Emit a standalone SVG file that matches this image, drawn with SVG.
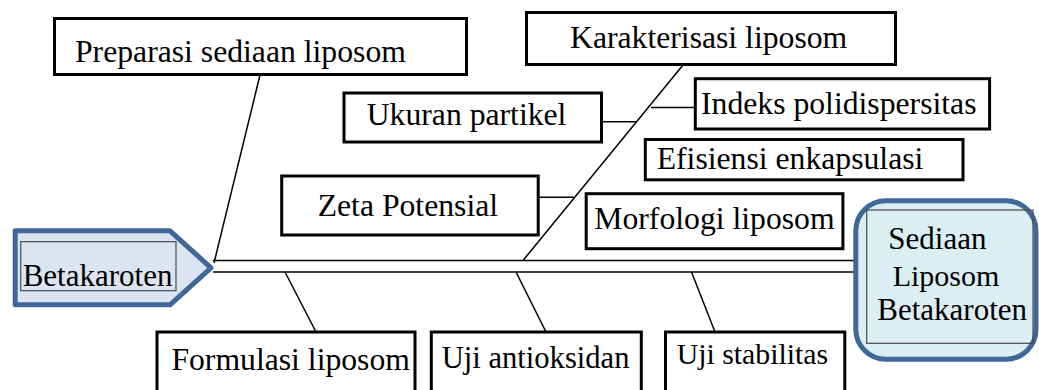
<svg xmlns="http://www.w3.org/2000/svg" width="1039" height="390" viewBox="0 0 1039 390">
<style>
.box{fill:#fff;stroke:#000;stroke-width:3}
.t{font-family:"Liberation Serif","Times New Roman",serif;font-size:31.7px;fill:#000}
.ln{stroke:#000;stroke-width:1.5;fill:none}
.inner{fill:none;stroke:#4a4a4a;stroke-width:1.2}
</style>
<rect width="1039" height="390" fill="#fff"/>
<g id="connectors">
<line class="ln" x1="213" y1="260.5" x2="858" y2="260.5"/>
<line class="ln" x1="213" y1="272" x2="858" y2="272"/>
<line class="ln" x1="260" y1="75" x2="214" y2="263"/>
<line class="ln" x1="683" y1="65" x2="523" y2="260.5"/>
<line class="ln" x1="601" y1="121.7" x2="637" y2="121.7"/>
<line class="ln" x1="538" y1="197.3" x2="574" y2="197.3"/>
<line class="ln" x1="651" y1="107.5" x2="695" y2="107.5"/>
<line class="ln" x1="285" y1="272" x2="316" y2="332"/>
<line class="ln" x1="516" y1="272" x2="546" y2="332"/>
<line class="ln" x1="691.5" y1="272" x2="715" y2="332"/>
</g>
<g id="preparasi">
<rect class="box" x="54.5" y="18.5" width="412" height="56"/>
<text class="t" x="75" y="62">Preparasi sediaan liposom</text>
</g>
<g id="karakterisasi">
<rect class="box" x="526.5" y="12.5" width="369" height="52"/>
<text class="t" x="570" y="48">Karakterisasi liposom</text>
</g>
<g id="ukuran">
<rect class="box" x="344" y="93" width="257.5" height="49"/>
<text class="t" x="366.7" y="125">Ukuran partikel</text>
</g>
<g id="indeks">
<rect class="box" x="695.3" y="78.7" width="294.3" height="50.3"/>
<text class="t" x="701" y="114">Indeks polidispersitas</text>
</g>
<g id="efisiensi">
<rect class="box" x="645.3" y="139.5" width="317.7" height="40.3"/>
<text class="t" x="656.7" y="169">Efisiensi enkapsulasi</text>
</g>
<g id="zeta">
<rect class="box" x="281.7" y="176" width="256.5" height="59"/>
<text class="t" x="317.7" y="216">Zeta Potensial</text>
</g>
<g id="morfologi">
<rect class="box" x="586.2" y="193.7" width="256.7" height="55"/>
<text class="t" x="594.3" y="229.3">Morfologi liposom</text>
</g>
<g id="formulasi">
<rect class="box" x="157" y="332" width="258" height="70"/>
<text class="t" x="171.4" y="369.5">Formulasi liposom</text>
</g>
<g id="antioksidan">
<rect class="box" x="431.3" y="332" width="210" height="70"/>
<text class="t" x="441.7" y="368.3" style="font-size:30.6px">Uji antioksidan</text>
</g>
<g id="stabilitas">
<rect class="box" x="665.5" y="332" width="179.3" height="70"/>
<text class="t" x="676.7" y="364.3" style="font-size:29.8px">Uji stabilitas</text>
</g>
<g id="betakaroten">
<path d="M15.2,230.8 L170,230.8 L211,267.8 L170,304.8 L15.2,304.8 Z" fill="#dbe5f1" stroke="#3f6797" stroke-width="5" stroke-linejoin="round"/>
<rect class="inner" x="20.7" y="241.7" width="155.3" height="49"/>
<text class="t" x="22.7" y="286" style="font-size:31px">Betakaroten</text>
</g>
<g id="sediaan">
<rect x="855.8" y="200.8" width="180.2" height="158.4" rx="30" ry="30" fill="#dbeef4" stroke="#3f6797" stroke-width="5"/>
<rect class="inner" x="866.7" y="210" width="166.3" height="133.3"/>
<text class="t" x="888.3" y="249.3" style="font-size:31px">Sediaan</text>
<text class="t" x="892.7" y="286" style="font-size:30px">Liposom</text>
<text class="t" x="877.3" y="320" style="font-size:31px">Betakaroten</text>
</g>
</svg>
